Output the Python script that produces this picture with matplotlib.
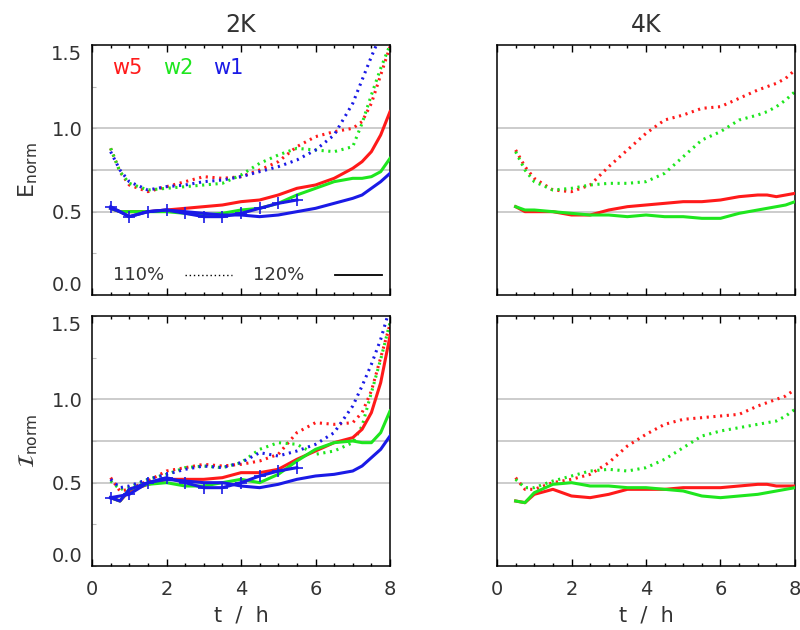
import matplotlib
matplotlib.use("Agg")
import matplotlib.pyplot as plt
from matplotlib.ticker import MultipleLocator

plt.rcParams['font.family'] = ['DejaVu Sans']
plt.rcParams['mathtext.fontset'] = 'dejavusans'

# ---------------- data ----------------
t = [0.5, 0.75, 1.0, 1.5, 2.0, 2.5, 3.0, 3.5, 4.0, 4.5, 5.0, 5.5, 6.0, 6.5, 7.0, 7.25, 7.5, 7.75, 8.0]
t_plus = [0.5, 1.0, 1.5, 2.0, 2.5, 3.0, 3.5, 4.0, 4.5, 5.0, 5.5]

# E_norm, 2K
e2_w5_110 = [0.88, 0.74, 0.66, 0.62, 0.65, 0.68, 0.71, 0.70, 0.71, 0.75, 0.80, 0.89, 0.95, 0.98, 1.00, 1.04, 1.15, 1.32, 1.49]
e2_w2_110 = [0.88, 0.74, 0.67, 0.63, 0.64, 0.65, 0.66, 0.67, 0.72, 0.79, 0.84, 0.88, 0.87, 0.86, 0.89, 1.03, 1.20, 1.36, 1.50]
e2_w1_110 = [0.86, 0.75, 0.68, 0.63, 0.65, 0.66, 0.68, 0.69, 0.71, 0.74, 0.77, 0.81, 0.87, 0.96, 1.15, 1.29, 1.43, 1.56, 1.70]
e2_w5_120 = [0.52, 0.50, 0.50, 0.50, 0.51, 0.52, 0.53, 0.54, 0.56, 0.57, 0.60, 0.64, 0.66, 0.70, 0.76, 0.80, 0.86, 0.96, 1.10]
e2_w2_120 = [0.52, 0.50, 0.50, 0.50, 0.50, 0.49, 0.48, 0.49, 0.51, 0.52, 0.55, 0.60, 0.64, 0.68, 0.70, 0.70, 0.71, 0.74, 0.82]
e2_w1_120 = [0.52, 0.50, 0.47, 0.50, 0.51, 0.50, 0.49, 0.48, 0.48, 0.47, 0.48, 0.50, 0.52, 0.55, 0.58, 0.60, 0.64, 0.68, 0.73]
e2_w1_plus = [0.53, 0.47, 0.50, 0.51, 0.49, 0.47, 0.47, 0.49, 0.52, 0.55, 0.57]

# I_norm, 2K
i2_w5_110 = [0.53, 0.45, 0.46, 0.51, 0.57, 0.59, 0.61, 0.60, 0.61, 0.63, 0.67, 0.80, 0.86, 0.85, 0.86, 0.92, 1.05, 1.25, 1.45]
i2_w2_110 = [0.51, 0.46, 0.47, 0.52, 0.55, 0.59, 0.60, 0.59, 0.62, 0.70, 0.74, 0.73, 0.67, 0.69, 0.74, 0.84, 1.04, 1.24, 1.46]
i2_w1_110 = [0.52, 0.47, 0.48, 0.52, 0.55, 0.58, 0.60, 0.59, 0.62, 0.68, 0.66, 0.69, 0.73, 0.80, 0.96, 1.08, 1.21, 1.36, 1.55]
i2_w5_120 = [0.41, 0.39, 0.45, 0.49, 0.52, 0.52, 0.52, 0.53, 0.56, 0.56, 0.58, 0.64, 0.69, 0.74, 0.77, 0.82, 0.92, 1.10, 1.38]
i2_w2_120 = [0.41, 0.39, 0.46, 0.49, 0.50, 0.48, 0.48, 0.50, 0.52, 0.50, 0.55, 0.63, 0.70, 0.74, 0.75, 0.74, 0.74, 0.80, 0.93]
i2_w1_120 = [0.41, 0.39, 0.46, 0.50, 0.52, 0.51, 0.50, 0.50, 0.48, 0.47, 0.49, 0.52, 0.54, 0.55, 0.57, 0.60, 0.65, 0.70, 0.78]
i2_w1_plus = [0.41, 0.43, 0.50, 0.53, 0.50, 0.47, 0.47, 0.50, 0.54, 0.57, 0.59]

# E_norm, 4K
e4_w5_110 = [0.87, 0.77, 0.70, 0.63, 0.62, 0.66, 0.77, 0.87, 0.97, 1.05, 1.08, 1.12, 1.13, 1.18, 1.23, 1.25, 1.27, 1.30, 1.35]
e4_w2_110 = [0.86, 0.75, 0.68, 0.63, 0.64, 0.66, 0.67, 0.67, 0.68, 0.73, 0.83, 0.93, 0.98, 1.05, 1.08, 1.10, 1.13, 1.17, 1.22]
e4_w5_120 = [0.53, 0.50, 0.50, 0.50, 0.48, 0.48, 0.51, 0.53, 0.54, 0.55, 0.56, 0.56, 0.57, 0.59, 0.60, 0.60, 0.59, 0.60, 0.61]
e4_w2_120 = [0.53, 0.51, 0.51, 0.50, 0.49, 0.48, 0.48, 0.47, 0.48, 0.47, 0.47, 0.46, 0.46, 0.49, 0.51, 0.52, 0.53, 0.54, 0.56]

# I_norm, 4K
i4_w5_110 = [0.53, 0.46, 0.46, 0.50, 0.52, 0.55, 0.62, 0.72, 0.79, 0.85, 0.88, 0.89, 0.90, 0.91, 0.96, 0.98, 1.00, 1.02, 1.06]
i4_w2_110 = [0.52, 0.47, 0.47, 0.51, 0.54, 0.57, 0.58, 0.57, 0.59, 0.64, 0.71, 0.78, 0.81, 0.83, 0.85, 0.86, 0.87, 0.90, 0.94]
i4_w5_120 = [0.39, 0.38, 0.43, 0.46, 0.42, 0.41, 0.43, 0.46, 0.46, 0.46, 0.47, 0.47, 0.47, 0.48, 0.49, 0.49, 0.48, 0.48, 0.48]
i4_w2_120 = [0.39, 0.38, 0.44, 0.49, 0.50, 0.48, 0.48, 0.47, 0.47, 0.46, 0.45, 0.42, 0.41, 0.42, 0.43, 0.44, 0.45, 0.46, 0.47]

titles = ["2K", "4K"]
ylabels = [r"$\mathrm{E}_{\mathrm{norm}}$", r"$\mathcal{I}_{\mathrm{norm}}$"]
xlabel = "t  /  h"
ytick_vals = [0.0, 0.5, 1.0, 1.5]
ytick_labels = ["0.0", "0.5", "1.0", "1.5"]
legend_names = ["w5", "w2", "w1"]
legend_pcts = ["110%", "120%"]
grid_levels = [0.5, 0.75, 1.0]

RED = "#ff1a1a"
GREEN = "#1ee61e"
BLUE = "#1a1ae6"
TXT = "#333333"

DOT = (0, (0.7, 1.5))

fig = plt.figure(figsize=(8.0, 6.3), dpi=100)
W = 298 / 800
H = 250 / 630
lefts = [92 / 800, 497 / 800]
bottoms = [1 - 295 / 630, 1 - 566 / 630]

axes = [[fig.add_axes([lefts[c], bottoms[r], W, H]) for c in range(2)] for r in range(2)]

panels = {
    (0, 0): [(e2_w5_110, RED, DOT), (e2_w2_110, GREEN, DOT), (e2_w1_110, BLUE, DOT),
             (e2_w5_120, RED, '-'), (e2_w2_120, GREEN, '-'), (e2_w1_120, BLUE, '-')],
    (1, 0): [(i2_w5_110, RED, DOT), (i2_w2_110, GREEN, DOT), (i2_w1_110, BLUE, DOT),
             (i2_w5_120, RED, '-'), (i2_w2_120, GREEN, '-'), (i2_w1_120, BLUE, '-')],
    (0, 1): [(e4_w5_110, RED, DOT), (e4_w2_110, GREEN, DOT),
             (e4_w5_120, RED, '-'), (e4_w2_120, GREEN, '-')],
    (1, 1): [(i4_w5_110, RED, DOT), (i4_w2_110, GREEN, DOT),
             (i4_w5_120, RED, '-'), (i4_w2_120, GREEN, '-')],
}
plus_series = {(0, 0): e2_w1_plus, (1, 0): i2_w1_plus}

for (r, c), series in panels.items():
    ax = axes[r][c]
    ax.set_xlim(0, 8)
    ax.set_ylim(0, 1.5)
    for g in grid_levels:
        ax.axhline(g, color="#c4c4c4", lw=1.2, zorder=1)
    for vals, col, ls in series:
        if ls == '-':
            ax.plot(t, vals, color=col, lw=2.2, ls='-', zorder=3, solid_joinstyle='round')
        else:
            ax.plot(t, vals, color=col, lw=2.2, ls=ls, zorder=2)
    if (r, c) in plus_series:
        ax.plot(t_plus, plus_series[(r, c)], color=BLUE, lw=2.2, marker='+', ms=8, mew=1.2, zorder=4)

    ax.xaxis.set_major_locator(MultipleLocator(2))
    ax.xaxis.set_minor_locator(MultipleLocator(0.5))
    ax.tick_params(axis='x', which='major', direction='in', length=5, width=1, top=True,
                   labelsize=14, labelcolor=TXT, pad=10)
    ax.tick_params(axis='x', which='minor', direction='in', length=2.5, width=1, top=True)
    if c == 0:
        ax.set_yticks(ytick_vals)
        ax.set_yticklabels(ytick_labels)
        ax.yaxis.set_minor_locator(MultipleLocator(0.25))
        ax.tick_params(axis='y', which='both', direction='in', length=3, width=0.8, color="#bbbbbb",
                       labelsize=14, labelcolor=TXT, pad=7)
        ylabs = ax.get_yticklabels()
        ylabs[0].set_va('bottom')
        ylabs[-1].set_va('top')
        ax.set_ylabel(ylabels[r], fontsize=16, color=TXT, labelpad=8)
    else:
        ax.set_yticks(ytick_vals)
        ax.tick_params(axis='y', which='both', length=0, labelleft=False)
    if r == 0:
        ax.tick_params(axis='x', which='both', labelbottom=False)
        ax.set_title(titles[c], fontsize=17, color=TXT, pad=9)
    else:
        ax.set_xlabel(xlabel, fontsize=15, color=TXT, labelpad=5)
    for sp in ax.spines.values():
        sp.set_linewidth(1.1)
        sp.set_color("black")

# legend texts in top-left panel
ax0 = axes[0][0]
for name, col, xp in zip(legend_names, [RED, GREEN, BLUE], [0.95, 2.31, 3.65]):
    ax0.text(xp, 1.36, name, color=col, fontsize=15, ha='center', va='center')
ax0.text(1.26, 0.12, legend_pcts[0], color=TXT, fontsize=13, ha='center', va='center')
ax0.text(5.02, 0.12, legend_pcts[1], color=TXT, fontsize=13, ha='center', va='center')
ax0.plot([2.5, 3.76], [0.12, 0.12], color='black', lw=1.0, ls=(0, (1, 2)))
ax0.plot([6.52, 7.78], [0.12, 0.12], color='black', lw=1.3, ls='-')

fig.savefig("out.png", dpi=100)
